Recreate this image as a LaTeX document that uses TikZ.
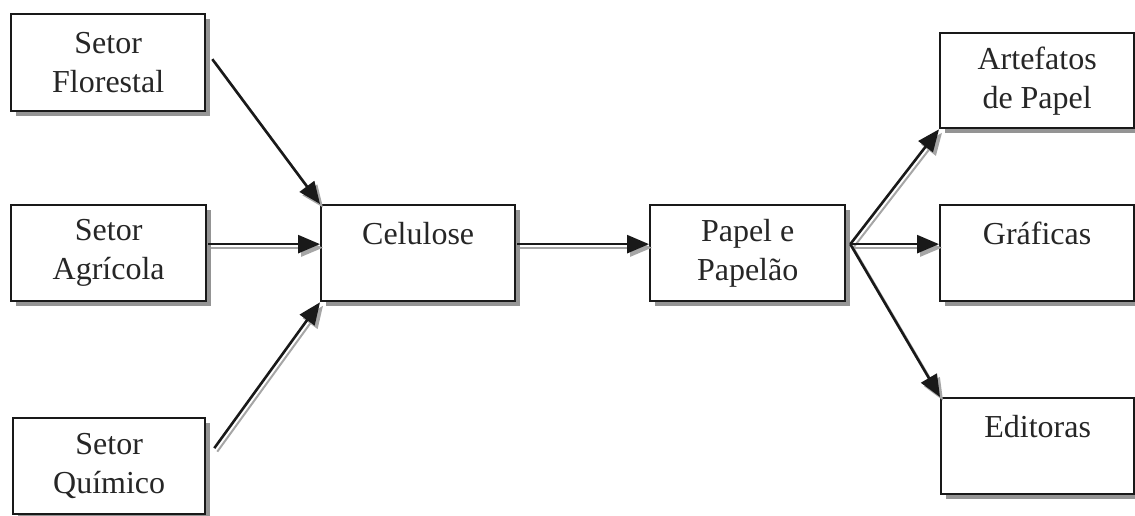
\documentclass[tikz,border=0pt]{standalone}
\usepackage{fontspec}
\setmainfont{Liberation Serif}
\usetikzlibrary{arrows.meta,shadows,positioning}

\tikzset{
  sector/.style={
    draw=black!90, line width=2.3pt, fill=white, anchor=north west,
    align=center, inner sep=0pt, text=black!85,
    font=\fontsize{32}{39}\selectfont,
    drop shadow={shadow xshift=4.5pt, shadow yshift=-4.5pt, fill=black!42, opacity=1}
  },
  flow/.style={
    line width=2.6pt, draw=black!90,
    -{Triangle[length=22pt,width=18pt]},
    preaction={draw=black!35, line width=2pt, -{Triangle[length=22pt,width=18pt]},
      transform canvas={shift={(3pt,-3.5pt)}}}
  }
}

\begin{document}
\begin{tikzpicture}[x=1pt,y=1pt]
  \useasboundingbox (0,0) rectangle (1135,515);

  % input sectors
  \node[sector, minimum width=194pt, minimum height=97pt] (flor) at (10,502) {Setor\\Florestal};
  \node[sector, minimum width=195pt, minimum height=96pt] (agri) at (10,311) {Setor\\Agrícola};
  \node[sector, minimum width=192pt, minimum height=96pt] (quim) at (12,98) {Setor\\Químico};

  % production chain
  \node[sector, minimum width=194pt, minimum height=96pt] (celu) at (320,311) {Celulose\\\phantom{X}};
  \node[sector, minimum width=195pt, minimum height=96pt] (papel) at (649,311) {Papel e\\Papelão};

  % consumers
  \node[sector, minimum width=194pt, minimum height=95pt] (arte) at (939,483) {Artefatos\\de Papel};
  \node[sector, minimum width=194pt, minimum height=96pt] (graf) at (939,311) {Gráficas\\\phantom{X}};
  \node[sector, minimum width=193pt, minimum height=96pt] (edit) at (940,118) {Editoras\\\phantom{X}};

  % connectors
  \coordinate (hub) at ([xshift=4pt,yshift=9pt]papel.east);
  \draw[flow] ([xshift=6pt,yshift=3.5pt]flor.east) -- (celu.north west);
  \draw[flow] ([xshift=1pt,yshift=9pt]agri.east) -- ([yshift=9pt]celu.west);
  \draw[flow] ([xshift=8pt,yshift=18pt]quim.east) -- (celu.south west);
  \draw[flow] ([xshift=1pt,yshift=9pt]celu.east) -- ([yshift=9pt]papel.west);
  \draw[flow] (hub) -- (arte.south west);
  \draw[flow] (hub) -- ([yshift=9pt]graf.west);
  \draw[flow] (hub) -- (edit.north west);
\end{tikzpicture}
\end{document}
